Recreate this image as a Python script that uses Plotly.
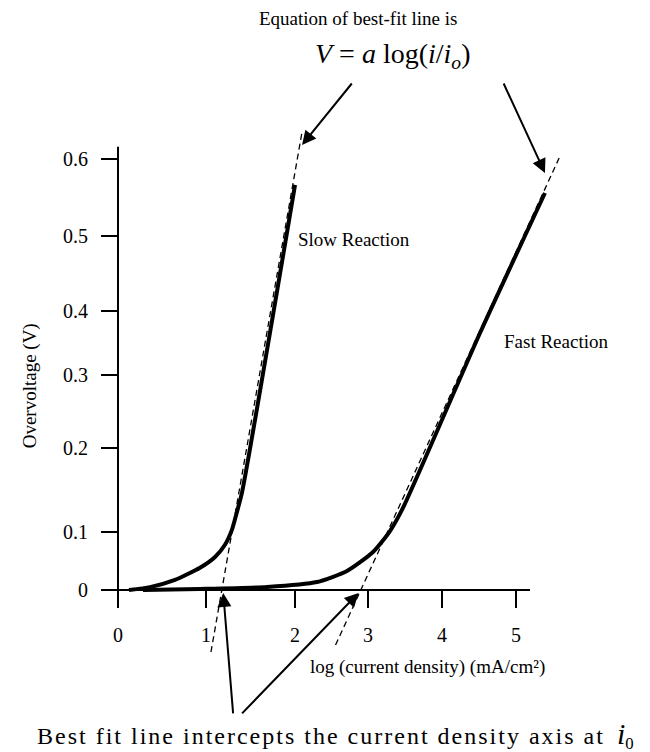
import plotly.graph_objects as go

# ---------------- data (axis units) ----------------
slow_x = [0.138, 0.402, 0.716, 1.030, 1.219, 1.344, 1.432, 1.495, 1.558, 2.224]
slow_y = [0.000, 0.004, 0.014, 0.031, 0.046, 0.063, 0.084, 0.109, 0.136, 0.564]

fast_x = [0.314, 1.030, 1.872, 2.500, 2.877, 3.204, 3.417, 3.580, 4.548, 5.364]
fast_y = [0.000, 0.0014, 0.0042, 0.0111, 0.0265, 0.0529, 0.0821, 0.1142, 0.3578, 0.5527]

slow_fit_x = [1.168, 2.312]
slow_fit_y = [-0.0863, 0.6376]
fast_fit_x = [2.733, 5.542]
fast_fit_y = [-0.0766, 0.6014]

x_tick_pos = [0, 1.106, 2.224, 3.141, 4.070, 5.0]
x_tick_text = ["0", "1", "2", "3", "4", "5"]
y_tick_pos = [0, 0.0807, 0.1977, 0.2993, 0.3884, 0.4928, 0.6]
y_tick_text = ["0", "0.1", "0.2", "0.3", "0.4", "0.5", "0.6"]

x_axis_end = 5.176
y_axis_end = 0.617

FONT = "Liberation Serif"

x_range = [-0.98, 6.558]
y_range = [-0.1392, 0.6891]

fig = go.Figure()

fig.add_trace(go.Scatter(x=slow_fit_x, y=slow_fit_y, mode="lines",
                         line=dict(color="black", width=1.3, dash="6px,4px"),
                         hoverinfo="skip"))
fig.add_trace(go.Scatter(x=fast_fit_x, y=fast_fit_y, mode="lines",
                         line=dict(color="black", width=1.3, dash="6px,4px"),
                         hoverinfo="skip"))
fig.add_trace(go.Scatter(x=slow_x, y=slow_y, mode="lines",
                         line=dict(color="black", width=4, shape="spline", smoothing=0.6)))
fig.add_trace(go.Scatter(x=fast_x, y=fast_y, mode="lines",
                         line=dict(color="black", width=4, shape="spline", smoothing=0.6)))

# axis lines
fig.add_shape(type="line", xref="x", yref="y", x0=0, x1=0, y0=0, y1=y_axis_end,
              line=dict(color="black", width=2))
fig.add_shape(type="line", xref="x", yref="y", x0=0, x1=x_axis_end, y0=0, y1=0,
              line=dict(color="black", width=2))

xpos = (0 - y_range[0]) / (y_range[1] - y_range[0])
ypos = (0 - x_range[0]) / (x_range[1] - x_range[0])

fig.update_layout(
    width=650, height=752,
    margin=dict(l=40, r=10, t=95, b=62),
    paper_bgcolor="white", plot_bgcolor="white",
    showlegend=False,
    font=dict(family=FONT, size=19, color="black"),
    xaxis=dict(range=x_range, anchor="free", position=xpos,
               tickmode="array", tickvals=x_tick_pos, ticktext=x_tick_text,
               ticks="outside", ticklen=17, tickwidth=2, tickcolor="black",
               ticklabelstandoff=10,
               showline=False, showgrid=False, zeroline=False,
               tickfont=dict(family=FONT, size=20)),
    yaxis=dict(range=y_range, anchor="free", position=ypos,
               tickmode="array", tickvals=y_tick_pos, ticktext=y_tick_text,
               ticks="outside", ticklen=17, tickwidth=2, tickcolor="black",
               ticklabelstandoff=9,
               showline=False, showgrid=False, zeroline=False,
               tickfont=dict(family=FONT, size=20)),
)

anns = []
# text labels
anns.append(dict(x=2.236, y=0.4873, xref="x", yref="y", text="Slow Reaction",
                 showarrow=False, xanchor="left", yanchor="middle", font=dict(size=19)))
anns.append(dict(x=4.824, y=0.3453, xref="x", yref="y", text="Fast Reaction",
                 showarrow=False, xanchor="left", yanchor="middle", font=dict(size=19)))
anns.append(dict(x=0.53, y=1.1294, xref="paper", yref="paper",
                 text="Equation of best-fit line is", showarrow=False,
                 xanchor="center", yanchor="middle", font=dict(size=19)))
anns.append(dict(x=0.588, y=1.0672, xref="paper", yref="paper",
                 text="<i>V</i> = <i>a</i> log(<i>i</i>/<i>i<sub>o</sub></i>)", showarrow=False,
                 xanchor="center", yanchor="middle", font=dict(size=28)))
anns.append(dict(x=0.4467, y=0.0387, xref="paper", yref="paper",
                 text="log (current density) (mA/cm²)", showarrow=False,
                 xanchor="left", yanchor="middle", font=dict(size=19)))
anns.append(dict(x=-0.0167, y=0.512, xref="paper", yref="paper",
                 text="Overvoltage (V)", showarrow=False, textangle=-90,
                 xanchor="center", yanchor="middle", font=dict(size=19)))
anns.append(dict(x=0.492, y=-0.0756, xref="paper", yref="paper",
                 text="<span style='letter-spacing:2px'>Best fit line intercepts the "
                      "current density axis at</span>  "
                      "<span style='font-size:30px'><i>i</i></span><sub>0</sub>",
                 showarrow=False, xanchor="center", yanchor="middle", font=dict(size=24)))

# arrows
arrow_style = dict(showarrow=True, arrowhead=2, arrowsize=1.4, arrowwidth=2,
                   arrowcolor="black", text="", standoff=0)
anns.append(dict(x=2.312, y=0.6195, xref="x", yref="y", ax=51, ay=-63, **arrow_style))
anns.append(dict(x=5.364, y=0.5805, xref="x", yref="y", ax=-42, ay=-91, **arrow_style))
anns.append(dict(x=1.322, y=-0.004, xref="x", yref="y", ax=10, ay=122, **arrow_style))
anns.append(dict(x=3.023, y=-0.004, xref="x", yref="y", ax=-118, ay=122, **arrow_style))

fig.update_layout(annotations=anns)

fig.write_html("out.html")
